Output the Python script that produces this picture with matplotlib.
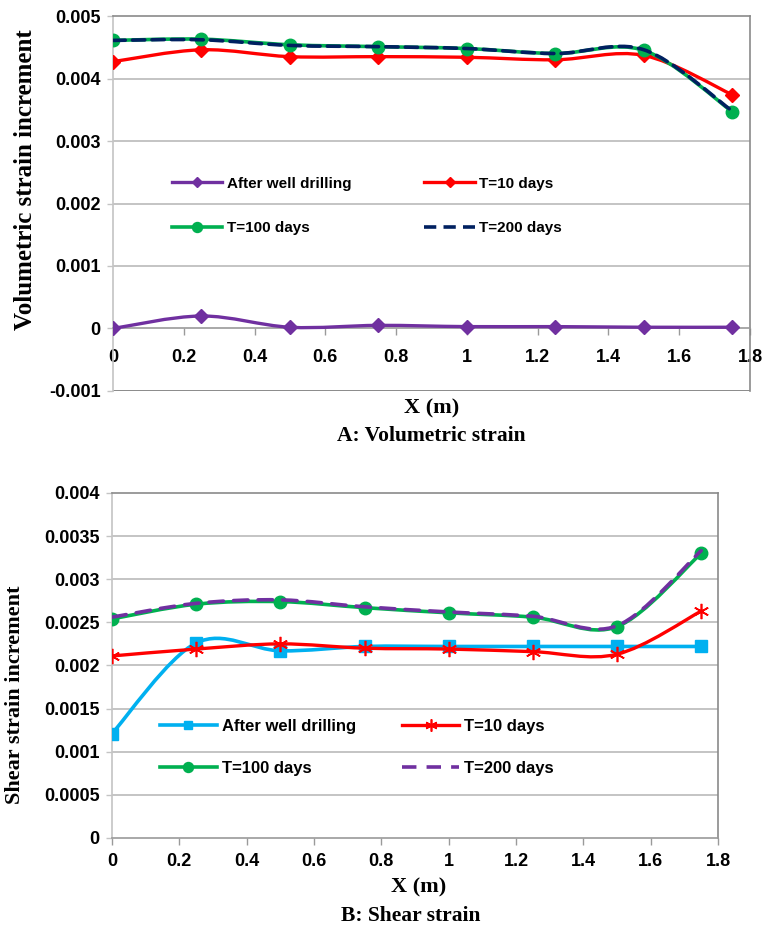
import numpy as np
import matplotlib
matplotlib.use("Agg")
import matplotlib.pyplot as plt
from matplotlib.path import Path
from matplotlib.patches import PathPatch
from matplotlib.lines import Line2D

# ----------------------------------------------------------
# Data (strain increments along the distance from the well)
# ----------------------------------------------------------

x_pos = [0, 0.25, 0.5, 0.75, 1.0, 1.25, 1.5, 1.75]

vol_after_drilling = [0.0, 0.00020, 0.00002, 0.00005, 0.00003, 0.00003, 0.00002, 0.00002]
vol_t10 = [0.00427, 0.00446, 0.00435, 0.00435, 0.00434, 0.00430, 0.00437, 0.00374]
vol_t100 = [0.00461, 0.00463, 0.00454, 0.00451, 0.00448, 0.00440, 0.00445, 0.00347]
vol_t200 = [0.00461, 0.00462, 0.00453, 0.00451, 0.00448, 0.00440, 0.00446, 0.00348]

shear_after_drilling = [0.00121, 0.00226, 0.00217, 0.00222, 0.00222, 0.00222, 0.00222, 0.00222]
shear_t10 = [0.00211, 0.00219, 0.00225, 0.00220, 0.00219, 0.00216, 0.00213, 0.00263]
shear_t100 = [0.00254, 0.00271, 0.00274, 0.00267, 0.00261, 0.00256, 0.00245, 0.00330]
shear_t200 = [0.00256, 0.00272, 0.00276, 0.00268, 0.00262, 0.00257, 0.00246, 0.00333]

series_labels = ["After well drilling", "T=10 days", "T=100 days", "T=200 days"]

x_ticks = [0, 0.2, 0.4, 0.6, 0.8, 1.0, 1.2, 1.4, 1.6, 1.8]
x_tick_labels = ["0", "0.2", "0.4", "0.6", "0.8", "1", "1.2", "1.4", "1.6", "1.8"]
vol_ticks = [-0.001, 0, 0.001, 0.002, 0.003, 0.004, 0.005]
vol_tick_labels = ["-0.001", "0", "0.001", "0.002", "0.003", "0.004", "0.005"]
shear_ticks = [0, 0.0005, 0.001, 0.0015, 0.002, 0.0025, 0.003, 0.0035, 0.004]
shear_tick_labels = ["0", "0.0005", "0.001", "0.0015", "0.002", "0.0025", "0.003", "0.0035", "0.004"]

# ----------------------------------------------------------
# Fonts / styles
# ----------------------------------------------------------

TICK_FONT = ["Liberation Sans", "DejaVu Sans"]
LEGEND_FONT = ["Liberation Sans", "DejaVu Sans"]
SERIF_FONT = ["Liberation Serif", "DejaVu Serif"]

GRID_COLOR = "#b4b4b4"
FRAME_DARK = "#8a8a8a"
FRAME_LIGHT = "#c4c4c4"


def smooth_path(xs, ys):
    """Cubic Bezier path through the points (spreadsheet style smoothing)."""
    pts = np.column_stack([xs, ys]).astype(float)
    n = len(pts)
    verts = [pts[0]]
    codes = [Path.MOVETO]
    for i in range(n - 1):
        p0 = pts[max(i - 1, 0)]
        p1 = pts[i]
        p2 = pts[i + 1]
        p3 = pts[min(i + 2, n - 1)]
        verts += [p1 + (p2 - p0) / 6.0, p2 - (p3 - p1) / 6.0, p2]
        codes += [Path.CURVE4] * 3
    return Path(verts, codes)


def draw_series(ax, ys, color, lw, ls, marker, ms, mew=1.0, z=3):
    patch = PathPatch(smooth_path(x_pos, ys), fill=False, edgecolor=color,
                      lw=lw, linestyle=ls, capstyle="round",
                      joinstyle="round", zorder=z)
    ax.add_patch(patch)
    if marker is not None:
        ax.plot(x_pos, ys, linestyle="none", marker=marker, ms=ms,
                color=color, mec=color, mew=mew, zorder=z + 0.5)
    return Line2D([], [], color=color, lw=lw, linestyle=ls,
                  marker=marker if marker else "", ms=ms * 0.8,
                  mec=color, mew=mew)


def style_axes(ax, ylim, yticks, yticklabels, xpad=6):
    ax.set_xlim(0, 1.8)
    ax.set_ylim(*ylim)
    ax.set_xticks(x_ticks)
    ax.set_xticklabels(x_tick_labels, fontfamily=TICK_FONT,
                       fontweight="bold", fontsize=13)
    ax.set_yticks(yticks)
    ax.set_yticklabels(yticklabels, fontfamily=TICK_FONT,
                       fontweight="bold", fontsize=13)
    for y in yticks:
        if ylim[0] < y < ylim[1] and y != 0:
            ax.axhline(y, color=GRID_COLOR, lw=1.1, zorder=1)
    ax.spines["top"].set_color(FRAME_DARK)
    ax.spines["right"].set_color(FRAME_DARK)
    ax.spines["left"].set_color(FRAME_LIGHT)
    ax.spines["bottom"].set_color("#9a9a9a")
    for s in ax.spines.values():
        s.set_linewidth(1.2)
    ax.tick_params(axis="x", direction="out", length=5, width=1,
                   color="#9a9a9a", pad=xpad)
    ax.tick_params(axis="y", direction="out", length=4, width=1,
                   color=FRAME_LIGHT, pad=5)


def row_order(items):
    # legend fills columns first; reorder so entries read row by row
    return [items[0], items[2], items[1], items[3]]


fig = plt.figure(figsize=(7.64, 9.32), dpi=100)

# ----------------------------------------------------------
# A: Volumetric strain
# ----------------------------------------------------------

ax1 = fig.add_axes([0.1479, 0.5805, 0.8338, 0.4023])
ax1.spines["bottom"].set_position(("data", 0))
style_axes(ax1, (-0.001, 0.005), vol_ticks, vol_tick_labels, xpad=10)
ax1.axhline(-0.001, color=FRAME_DARK, lw=1.4, zorder=2)

h1 = [
    draw_series(ax1, vol_after_drilling, "#7030a0", 2.4, "-", "D", 7, z=3),
    draw_series(ax1, vol_t10, "#ff0000", 2.4, "-", "D", 7, z=4),
    draw_series(ax1, vol_t100, "#00b050", 2.6, "-", "o", 9, z=5),
    draw_series(ax1, vol_t200, "#002060", 2.6, (0, (3.4, 2.0)), None, 0, z=6),
]
ax1.legend(row_order(h1), row_order(series_labels), ncol=2, loc="upper left",
           bbox_to_anchor=(0.092, 0.572), borderaxespad=0, borderpad=0,
           frameon=False, handlelength=3.3, handletextpad=0.3,
           columnspacing=4.8, labelspacing=2.0,
           prop={"family": LEGEND_FONT, "weight": "bold", "size": 11})

fig.text(0.033, 1 - 180 / 932, "Volumetric strain increment", rotation=90,
         ha="center", va="center", fontfamily=SERIF_FONT,
         fontweight="bold", fontsize=18)
fig.text(0.565, 1 - 408 / 932, "X (m)", ha="center", va="center",
         fontfamily=SERIF_FONT, fontweight="bold", fontsize=16)
fig.text(0.565, 1 - 436 / 932, "A: Volumetric strain", ha="center",
         va="center", fontfamily=SERIF_FONT, fontweight="bold", fontsize=15.5)

# ----------------------------------------------------------
# B: Shear strain
# ----------------------------------------------------------

ax2 = fig.add_axes([0.1466, 0.1009, 0.7932, 0.3702])
style_axes(ax2, (0, 0.004), shear_ticks, shear_tick_labels)

h2 = [
    draw_series(ax2, shear_after_drilling, "#00b0f0", 2.6, "-", "s", 8, z=3),
    draw_series(ax2, shear_t10, "#ff0000", 2.4, "-", (6, 2, 0), 11, mew=1.2, z=4),
    draw_series(ax2, shear_t100, "#00b050", 2.6, "-", "o", 9, z=5),
    draw_series(ax2, shear_t200, "#7030a0", 2.6, (0, (4.0, 2.8)), None, 0, z=6),
]
ax2.legend(row_order(h2), row_order(series_labels), ncol=2, loc="upper left",
           bbox_to_anchor=(0.079, 0.345), borderaxespad=0, borderpad=0,
           frameon=False, handlelength=3.4, handletextpad=0.3,
           columnspacing=2.8, labelspacing=1.6,
           prop={"family": LEGEND_FONT, "weight": "bold", "size": 12})

fig.text(0.02, 1 - 695 / 932, "Shear strain increment", rotation=90,
         ha="center", va="center", fontfamily=SERIF_FONT,
         fontweight="bold", fontsize=16)
fig.text(0.548, 1 - 887 / 932, "X (m)", ha="center", va="center",
         fontfamily=SERIF_FONT, fontweight="bold", fontsize=16)
fig.text(0.538, 1 - 916 / 932, "B: Shear strain", ha="center",
         va="center", fontfamily=SERIF_FONT, fontweight="bold", fontsize=15.5)

fig.savefig("out.png", dpi=100)
plt.close(fig)
